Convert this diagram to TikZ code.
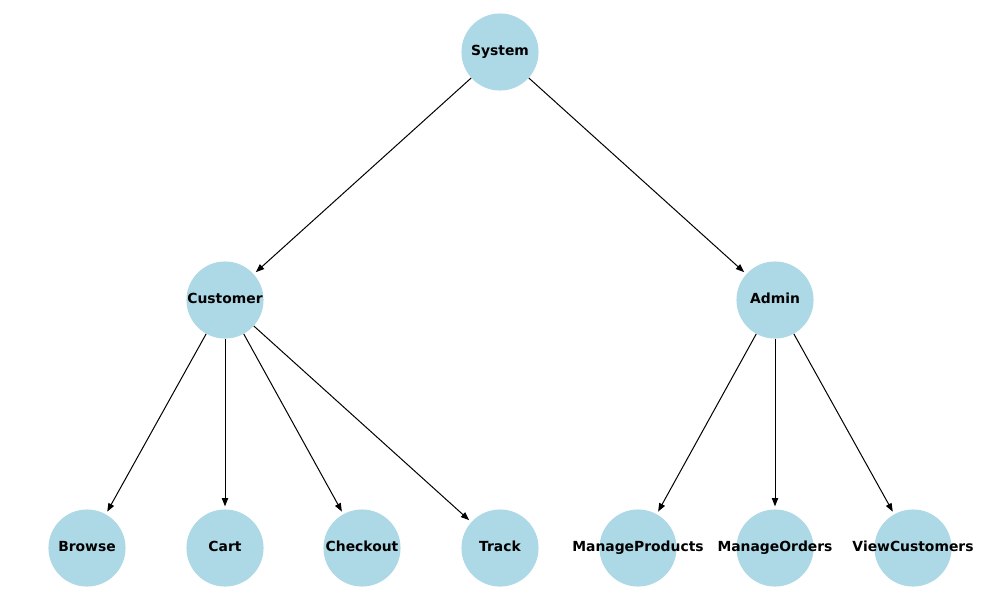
\documentclass[tikz,border=0pt]{standalone}
\usepackage{fontspec}
\setmainfont{DejaVu Sans}
\usetikzlibrary{arrows.meta}
\definecolor{boxblue}{RGB}{173,216,230}
\tikzset{
	leaf/.style={circle, fill=boxblue, minimum size=55.5pt, inner sep=0pt,
		label={[font=\bfseries\fontsize{10}{12}\selectfont, inner sep=0pt, text height=7.3pt, text depth=1.9pt]center:#1}},
	edge/.style={line width=0.72pt, -{Stealth[length=6pt, width=4.5pt, inset=0pt]}, shorten >=2pt}
}

\begin{document}
\begin{tikzpicture}[x=0.72pt, y=-0.72pt]
			%%%%% START %%%%%
			
			\useasboundingbox (0, 0) rectangle (1000, 600);
			
			\node[leaf=System] (system) at (500, 52) {};
			
			\node[leaf=Customer] (customer) at (225, 300) {};
			\node[leaf=Admin] (admin) at (775, 300) {};
			
			\node[leaf=Browse] (browse) at (87, 548) {};
			\node[leaf=Cart] (cart) at (225, 548) {};
			\node[leaf=Checkout] (checkout) at (362, 548) {};
			\node[leaf=Track] (track) at (500, 548) {};
			\node[leaf=ManageProducts] (products) at (638, 548) {};
			\node[leaf=ManageOrders] (orders) at (775, 548) {};
			\node[leaf=ViewCustomers] (viewcust) at (913, 548) {};
			
			\draw[edge] (system) -- (customer);
			\draw[edge] (system) -- (admin);
			
			\foreach \n in {browse, cart, checkout, track}
				\draw[edge] (customer) -- (\n);
			\foreach \n in {products, orders, viewcust}
				\draw[edge] (admin) -- (\n);
			
			%%%%% END %%%%%
		\end{tikzpicture}
\end{document}
